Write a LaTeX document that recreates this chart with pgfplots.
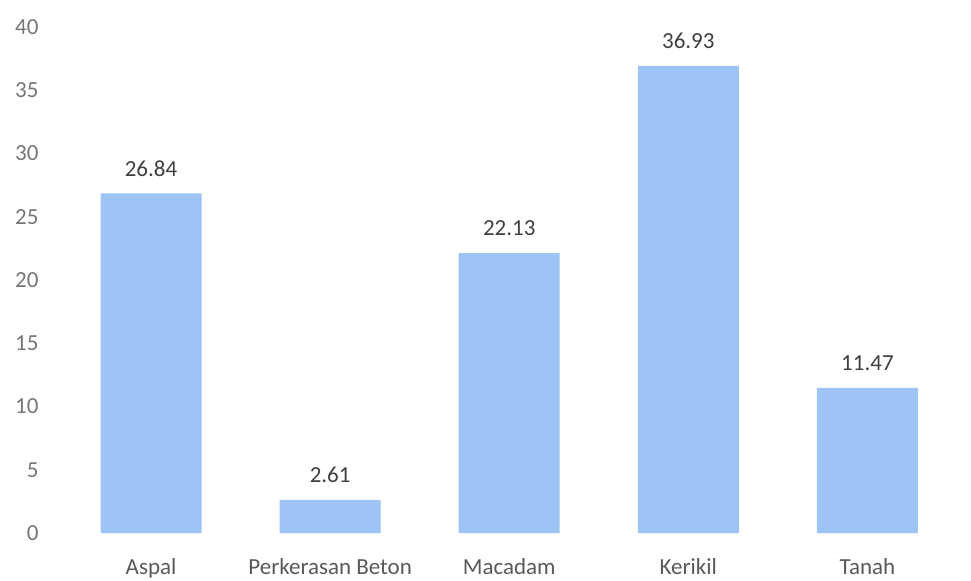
\documentclass[border=0pt]{standalone}
\usepackage{pgfplots}
\pgfplotsset{compat=1.18}
\usepackage{fontspec}
\setmainfont{Carlito}
\definecolor{barblue}{RGB}{158,195,245}
\definecolor{labgray}{RGB}{89,89,89}
\definecolor{tickgray}{RGB}{118,118,118}
\definecolor{valgray}{RGB}{64,64,64}
\begin{document}
\begin{tikzpicture}
\useasboundingbox (-30.75pt,-23.5pt) rectangle (454.75pt,266.5pt);
\begin{axis}[
  at={(0,0)}, anchor=south west,
  scale only axis,
  width=447.75pt, height=253pt,
  xmin=-0.5, xmax=4.5, ymin=0, ymax=40,
  axis line style={draw=none},
  tick style={draw=none},
  ytick={0,5,...,40},
  xtick=data,
  xticklabels={Aspal,Perkerasan Beton,Macadam,Kerikil,Tanah},
  /pgf/number format/assume math mode=true,
  yticklabel style={font=\fontsize{11.5}{13}\selectfont, text=tickgray, xshift=-8pt},
  xticklabel style={font=\fontsize{11.5}{13}\selectfont, text=labgray, yshift=-5pt},
  ybar, bar width=50.5pt,
  nodes near coords,
  nodes near coords style={font=\fontsize{11.5}{13}\selectfont, text=valgray, yshift=5pt,
    /pgf/number format/.cd, fixed, precision=2, zerofill, assume math mode=true},
]
\addplot[fill=barblue, draw=none] coordinates {(0,26.84) (1,2.61) (2,22.13) (3,36.93) (4,11.47)};
\end{axis}
\end{tikzpicture}
\end{document}
